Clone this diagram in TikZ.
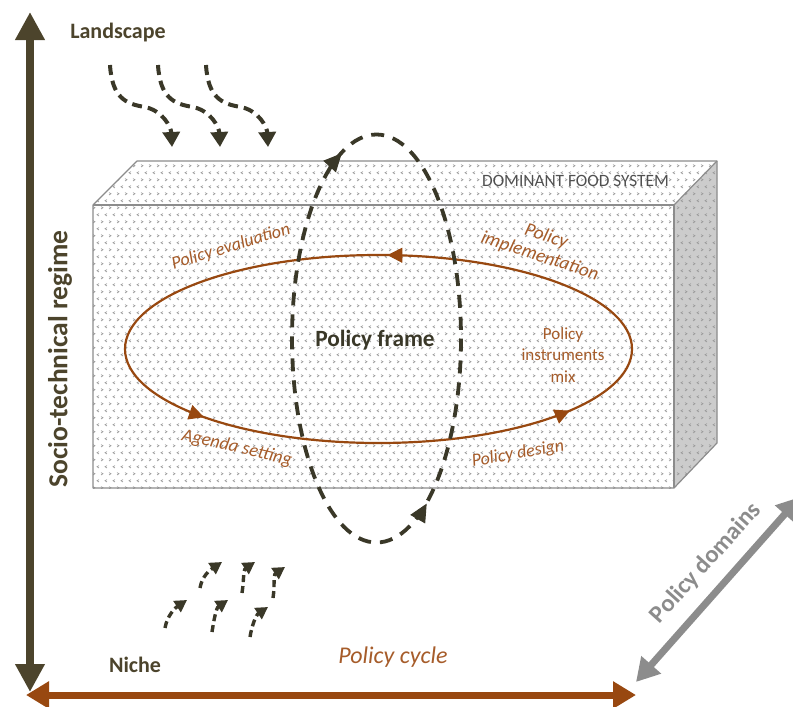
\documentclass[tikz,border=0pt]{standalone}
\usepackage{fontspec}
\setmainfont{Carlito}
\usetikzlibrary{arrows.meta,patterns}

\definecolor{darkol}{RGB}{76,68,44}
\definecolor{dashc}{RGB}{58,56,40}
\definecolor{brn}{RGB}{152,72,16}
\definecolor{brntxt}{RGB}{166,92,42}
\definecolor{edgec}{RGB}{140,140,140}
\definecolor{sidec}{RGB}{204,204,204}
\definecolor{patc}{RGB}{150,150,150}
\definecolor{grayarr}{RGB}{140,140,140}
\definecolor{domtxt}{RGB}{80,80,80}

\pgfdeclarepatternformonly{chevrons}{\pgfqpoint{-1pt}{-1pt}}{\pgfqpoint{9pt}{15pt}}{\pgfqpoint{8pt}{14pt}}{%
  \pgfsetlinewidth{0.6pt}%
  \pgfpathmoveto{\pgfqpoint{3.0pt}{3.4pt}}\pgfpathlineto{\pgfqpoint{1.0pt}{2.2pt}}\pgfpathlineto{\pgfqpoint{3.0pt}{1.0pt}}%
  \pgfpathmoveto{\pgfqpoint{5.0pt}{10.4pt}}\pgfpathlineto{\pgfqpoint{7.0pt}{9.2pt}}\pgfpathlineto{\pgfqpoint{5.0pt}{8.0pt}}%
  \pgfusepath{stroke}}

\tikzset{
  face/.style={fill=white, postaction={pattern=chevrons, pattern color=patc}},
  sideface/.style={fill=sidec, postaction={pattern=chevrons, pattern color=patc}},
  boxedge/.style={draw=edgec, line width=1.2pt, line join=round},
  bigarrow/.style={line width=7.5pt, {Triangle[length=28pt,width=28pt]}-{Triangle[length=28pt,width=28pt]}},
  landarrow/.style={dashc, line width=4pt, dash pattern=on 10pt off 6pt, -{Triangle[length=15pt,width=17pt]}},
  nichearrow/.style={dashc, line width=3.4pt, dash pattern=on 7pt off 4pt, -{Triangle[length=12pt,width=13pt]}},
  browntip/.style={brn, line width=1pt, -{Triangle[length=15pt,width=15pt]}},
  darktip/.style={dashc, line width=1pt, -{Triangle[length=18pt,width=17pt]}},
  lbl/.style={font=\fontsize{22}{24}\selectfont\bfseries, text=darkol, inner sep=0pt},
  brnlbl/.style={font=\fontsize{18}{21}\selectfont\itshape, text=brntxt, inner sep=0pt},
}

\begin{document}
\begin{tikzpicture}[x=1pt, y=-1pt]
\useasboundingbox (0,0) rectangle (793,707);

% ---- box ----
\coordinate (f1) at (93,205);
\coordinate (f2) at (674,205);
\coordinate (f3) at (674,488);
\coordinate (f4) at (93,488);
\coordinate (b1) at (137,161);
\coordinate (b2) at (717,161);
\coordinate (b3) at (717,443);
\path[face] (f1) -- (b1) -- (b2) -- (f2) -- cycle;
\path[sideface] (f2) -- (b2) -- (b3) -- (f3) -- cycle;
\path[face] (f1) rectangle (f3);
\draw[boxedge] (f1) -- (b1) -- (b2) -- (b3) -- (f3) -- (f4) -- cycle;
\draw[boxedge] (f1) -- (f2) -- (f3);
\draw[boxedge] (f2) -- (b2);

\node[font=\fontsize{17.3}{19}\selectfont, text=domtxt, inner sep=0pt] (dom) at (575.5,181) {DOMINANT FOOD SYSTEM};

% ---- brown policy cycle ellipse ----
\draw[brn, line width=2.2pt] (378.5,349) ellipse [x radius=253.5, y radius=94];
\coordinate (t1b) at (404.35,255.3); \coordinate (t1) at (387.35,255.06);
\coordinate (t2b) at (188.0,411.6); \coordinate (t2) at (204.0,417.2);
\coordinate (t3b) at (554.2,417.4); \coordinate (t3) at (569.8,410.7);
\draw[browntip] (t1b) -- (t1);
\draw[browntip] (t2b) -- (t2);
\draw[browntip] (t3b) -- (t3);

\node[brnlbl, rotate=17] (eval) at (231,247) {Policy evaluation};
\node[brnlbl, font=\fontsize{19}{21}\selectfont\itshape, rotate=-18, align=center] (impl) at (543,246.5) {Policy\\implementation};
\node[brnlbl, font=\fontsize{17}{21.5}\selectfont, align=center] (instr) at (563,355) {Policy\\instruments\\mix};
\node[brnlbl, font=\fontsize{18.5}{21}\selectfont\itshape, rotate=-13] (agenda) at (237,448) {Agenda setting};
\node[brnlbl, rotate=10] (design) at (518,454) {Policy design};

% ---- policy frame dashed loop ----
\draw[dashc, line width=3.8pt, dash pattern=on 13pt off 9pt] (376.5,338.5) ellipse [x radius=84.5, y radius=204];
\coordinate (d1b) at (328.8,167.4); \coordinate (d1) at (341.75,153.3);
\coordinate (d2b) at (417.7,519.2); \coordinate (d2) at (426.7,503.6);
\draw[darktip] (d1b) -- (d1);
\draw[darktip] (d2b) -- (d2);

\node[lbl, font=\fontsize{23.3}{25}\selectfont\bfseries, text=dashc] (frame) at (375,340) {Policy frame};

% ---- axes ----
\coordinate (vtop) at (30,12);
\coordinate (vbot) at (30,692);
\draw[bigarrow, darkol, line width=8pt] (vbot) -- (vtop);
\coordinate (hl) at (26,695);
\coordinate (hr) at (636,695);
\draw[brn, line width=7pt, {Triangle[length=23pt,width=26pt]}-{Triangle[length=23pt,width=26pt]}] (hl) -- (hr);
\coordinate (gl) at (636,682);
\coordinate (gr) at (800,497);
\draw[grayarr, line width=7pt, {Triangle[length=23pt,width=25pt]}-{Triangle[length=23pt,width=25pt]}] (gl) -- (gr);

\node[lbl] (land) at (118,33) {Landscape};
\node[lbl] (niche) at (135,665) {Niche};
\node[lbl, font=\fontsize{27.5}{29}\selectfont\bfseries, rotate=90] (socio) at (60,359) {Socio-technical regime};
\node[font=\fontsize{24}{26}\selectfont\itshape, text=brntxt, inner sep=0pt] (cycle) at (393,657) {Policy cycle};
\node[font=\fontsize{24.5}{26}\selectfont\bfseries, text=grayarr, inner sep=0pt, rotate=48] (domains) at (706,563) {Policy domains};

% ---- landscape pressure arrows ----
\foreach \dx in {0,48,96}{
  \draw[landarrow] (110+\dx,65) .. controls (112+\dx,97) and (125+\dx,104) .. (145+\dx,107)
        .. controls (163+\dx,111) and (171+\dx,127) .. (172+\dx,147);
}

% ---- niche arrows ----
\foreach \sx/\sy/\tx/\ty in {165/628/187/600, 212/632/228/600, 250/637/268/607,
                             200/588/222/562, 242/593/255/562, 273/598/285/567}{
  \draw[nichearrow] (\sx,\sy) .. controls +(2,-12) and +(-12,8) .. (\tx,\ty);
}
\end{tikzpicture}
\end{document}
